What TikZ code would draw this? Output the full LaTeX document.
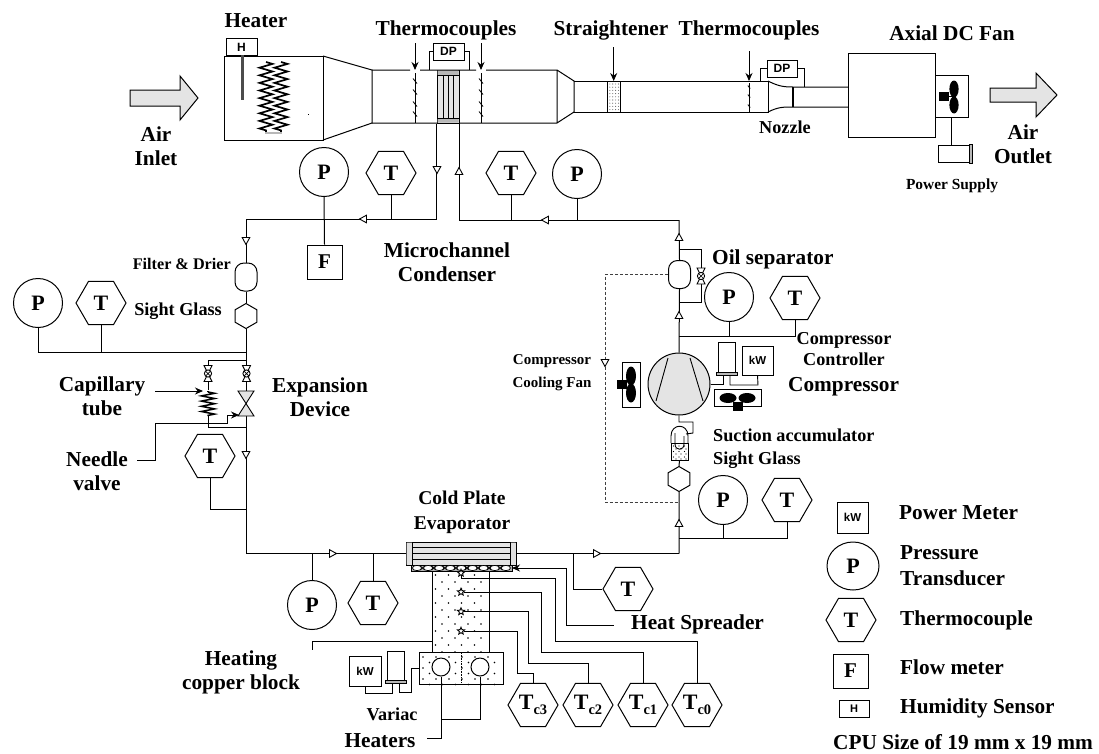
\documentclass[tikz,border=0pt]{standalone}
\usepackage{fontspec}
\setmainfont{Liberation Serif}
\newfontfamily\lsans{Liberation Sans}
\usetikzlibrary{shapes.geometric,arrows.meta,decorations.pathmorphing}
\definecolor{lg}{HTML}{E4E4E4}
\definecolor{mg}{HTML}{B8B8B8}
\tikzset{
  pipe/.style={line width=1pt,line join=miter},
  lab/.style={font=\bfseries\fontsize{21.3}{24}\selectfont,inner sep=0pt,align=center},
  labm/.style={font=\bfseries\fontsize{18.2}{21}\selectfont,inner sep=0pt,align=center},
  labs/.style={font=\bfseries\fontsize{15.4}{17}\selectfont,inner sep=0pt},
  pcirc/.style={circle,draw,pipe,fill=white,minimum size=49pt,inner sep=0pt,font=\bfseries\fontsize{22}{22}\selectfont},
  hexT/.style={regular polygon,regular polygon sides=6,draw,pipe,fill=white,minimum size=50pt,inner sep=0pt,font=\bfseries\fontsize{22}{22}\selectfont},
  hexV/.style={regular polygon,regular polygon sides=6,shape border rotate=30,draw,pipe,fill=white,minimum size=25pt,inner sep=0pt},
  sq/.style={rectangle,draw,pipe,fill=white,inner sep=0pt},
  sansbox/.style={sq,font=\lsans\bfseries\fontsize{11.5}{12}\selectfont},
  roundv/.style={rectangle,draw,pipe,fill=white,rounded corners=9pt,inner sep=0pt,minimum width=22pt,minimum height=28pt},
  tip/.style={-{Stealth[length=8pt,width=7pt]}},
  flow/.pic={\draw[line width=.9pt,fill=white] (-3.8,-3.5)--(3.8,-3.5)--(0,3.5)--cycle;},
  xvalve/.pic={\draw[line width=.9pt,fill=white] (-4,-8)--(4,-8)--(-4,8)--(4,8)--cycle;
     \draw[line width=.9pt,fill=white] (0,0) circle (3.6);
     \draw[line width=.7pt] (-2.5,-2.5)--(2.5,2.5) (-2.5,2.5)--(2.5,-2.5);},
  tick/.pic={\draw[line width=.8pt] (-2,-2.5)--(2,2.5);},
}
\newcommand{\Tsub}[1]{T\raisebox{-4.5pt}{\fontsize{14.5}{14.5}\selectfont #1}}
\begin{document}
\begin{tikzpicture}[x=1pt,y=-1pt]
\useasboundingbox (0,0) rectangle (1099,753);
\fill[white] (0,0) rectangle (1099,753);

% ---- wind tunnel ----
\draw[pipe,fill=lg] (130,90)--(180,90)--(180,76)--(198,98)--(180,120)--(180,106)--(130,106)--cycle;
\draw[pipe,fill=lg] (990,88)--(1036,88)--(1036,73)--(1057,95)--(1036,117)--(1036,102)--(990,102)--cycle;

\node[sq,minimum width=99pt,minimum height=84pt] (heater) at (273.5,98) {};
\node[sq,minimum width=31pt,minimum height=17pt,font=\lsans\bfseries\fontsize{12}{12}\selectfont] (hs) at (241.5,47) {H};
\fill[black!70] (240.5,55) rectangle (243.5,100);
\draw[line width=1.7pt,decorate,decoration={zigzag,segment length=7.6pt,amplitude=6.5pt}] (266,62)--(266,132);
\draw[line width=1.7pt,decorate,decoration={zigzag,segment length=7.6pt,amplitude=6.5pt}] (281,62)--(281,132);
\draw[line width=2pt,mg] (265,132.5)--(282,132.5);
\fill (307.5,113.5) rectangle (309,115);

\draw[pipe] (323,56)--(372,70)--(372,123)--(323,140);
\draw[pipe] (372,70)--(410,70) (420,70)--(476,70) (486,70)--(557,70)--(574,81)--(574,112)--(557,123)--(372,123) (557,70)--(557,123);
\draw[pipe] (574,81)--(768,81)--(768,112)--(574,112);
\draw[pipe] (768,81) .. controls (778,86) and (783,87) .. (793,87)--(848,87);
\draw[pipe] (768,112) .. controls (778,107) and (783,107) .. (793,107)--(848,107);
\draw[line width=1.6pt] (793,87)--(793,107);
\node[sq,minimum width=87pt,minimum height=84pt] (fanbox) at (891.5,95.5) {};
\node[sq,minimum width=33pt,minimum height=42pt] (fanhub) at (951.5,96) {};
\fill (954,89) ellipse (4.6 and 8.5) (954,105) ellipse (4.6 and 8.5);
\fill (939,92) rectangle (949,101);
\draw[pipe] (949,96)--(954,96);
\node[sq,minimum width=31pt,minimum height=17pt] (psu) at (953.5,153.5) {};
\draw[pipe,fill=mg] (969,144.5) rectangle (972,163);
\draw[pipe] (fanhub.south)--(fanhub.south|-psu.north);

% straightener 1
\node[sq,fill=lg,minimum width=22pt,minimum height=53pt] (str) at (448,96.5) {};
\fill[mg] (437.5,70.5) rectangle (458.5,75) (437.5,118) rectangle (458.5,122.5);
\draw[line width=.8pt] (443,75)--(443,118) (448,75)--(448,118) (453,75)--(453,118);
\draw[line width=.7pt] (437,75)--(459,75) (437,118)--(459,118);
\coordinate (strL) at (str.south west);
\coordinate (strR) at (str.south east);

% thermocouple probes
\coordinate (tcA) at (415,43);\coordinate (tcB) at (481,43);\coordinate (tcC) at (749,51);\coordinate (stA) at (613.7,47);
\draw[pipe,tip] (tcA)--(415,70);
\draw[pipe,tip] (tcB)--(481,70);
\draw[pipe] (415,73)--(415,123) (481,73)--(481,123);
\foreach \y in {81,92,104,114}{\pic at (415,\y) {tick}; \pic at (481,\y) {tick};}
\draw[pipe,tip] (tcC)--(749,81);
\draw[line width=.9pt] (749,83)--(749,112);
\foreach \y in {87,96,106}{\pic[scale=.6] at (749,\y) {tick};}
\draw[pipe,tip] (stA)--(613.7,81);
\node[sq,minimum width=12.5pt,minimum height=31pt] (str2) at (614,96.5) {};
\foreach \i in {0,...,3}\foreach \j in {0,...,8}{\fill[black!60] (609.8+\i*2.9,84+\j*3.2) circle (.55);}

% DP boxes
\node[sansbox,font=\lsans\bfseries\fontsize{12}{12}\selectfont,minimum width=31pt,minimum height=17pt] (dpA) at (448.5,51.5) {DP};
\node[sansbox,font=\lsans\bfseries\fontsize{12}{12}\selectfont,minimum width=30pt,minimum height=17pt] (dpB) at (782,68.5) {DP};
\draw[line width=.9pt] (dpA.west)-|(429,70) (dpA.east)-|(469,70);
\draw[line width=.9pt] (dpB.west)-|(760,81) (dpB.east)-|(804,87);

% ---- refrigerant loop ----
\coordinate (cL) at (246,219);
\coordinate (cR) at (679,220);
\coordinate (cBL) at (246,553.5);
\coordinate (cBR) at (679,553.5);
\draw[pipe] (strL)|-(cL);
\draw[pipe] (strR)|-(cR);

\node[hexT] (tA) at (391,173) {T};
\node[hexT] (tB) at (511,173) {T};
\node[pcirc] (pA) at (324,172) {P};
\node[pcirc] (pB) at (577,174) {P};
\node[sq,minimum width=35pt,minimum height=34pt,font=\bfseries\fontsize{21}{21}\selectfont] (fm) at (324.5,262) {F};
\draw[pipe] (pA.south)--(fm.north);
\draw[pipe] (tA.south)--(tA.south|-cL);
\draw[pipe] (tB.south)--(tB.south|-cR);
\draw[pipe] (pB.south)--(pB.south|-cR);
\pic at (437,170) {flow};
\pic[rotate=180] at (459,171) {flow};
\pic[rotate=-90] at (363,219) {flow};
\pic[rotate=-90] at (545,220) {flow};

\node[roundv] (filt) at (246,277) {};
\node[hexV] (sgL) at (246,316) {};
\draw[pipe] (cL)--(filt.north) (filt.south)--(sgL.north);
\pic at (246,241) {flow};
\node[pcirc] (pC) at (38,303) {P};
\node[hexT] (tC) at (101,303) {T};
\coordinate (jL) at (246,352);
\draw[pipe] (pC.south)|-(jL) (tC.south)--(tC.south|-jL);
\draw[pipe] (sgL.south)--(cBL)--(cBR);

% expansion section
\coordinate (bp) at (246,360);
\draw[line width=.9pt] (bp)-|(208,390);
\pic at (208,373.5) {xvalve};
\pic at (246.5,373.5) {xvalve};
\node[inner sep=0pt] (coilT) at (208,390) {};
\draw[line width=1.2pt] (coilT)--(208,392);
\draw[line width=1.5pt,decorate,decoration={zigzag,segment length=5.2pt,amplitude=6.5pt}] (208,392)--(208,416);
\draw[line width=.9pt] (208,416)--(208,427)--(246,427);
\draw[line width=.9pt,fill=lg] (238,391)--(254,391)--(238,416)--(254,416)--cycle;
\coordinate (capL) at (155,391);
\draw[pipe,tip] (capL)--(203,391);
\coordinate (needL) at (137,460);
\draw[line width=1pt,tip] (needL)--(155,460)--(155,423)--(227,423)--(227,415)--(239,415);
\node[hexT] (tD) at (210,456) {T};
\coordinate (jD) at (246,509);
\draw[pipe] (tD.south)|-(jD);
\pic at (246,455) {flow};

% evaporator
\node[sq,fill=lg,minimum width=110pt,minimum height=23pt] (evap) at (461,553.5) {};
\fill[black!12] (406.5,542.5) rectangle (412,564.5) (510,542.5) rectangle (515.5,564.5);
\draw[line width=.9pt] (412,542)--(412,565) (510,542)--(510,565) (412,547.5)--(510,547.5) (412,553.5)--(510,553.5) (412,559)--(510,559);
\pic[rotate=90] at (333,553.5) {flow};
\pic[rotate=90] at (597,553.5) {flow};
\node[pcirc] (pE) at (312,605) {P};
\node[hexT] (tE) at (373,603) {T};
\node[hexT] (tF) at (628,589) {T};
\draw[pipe] (pE.north)--(pE.north|-cBL) (tE.north)--(tE.north|-cBL);
\coordinate (jF) at (573,553.5);
\draw[pipe] (jF)|-(tF.west);

% copper blocks
\node[sq,minimum width=57pt,minimum height=82pt] (cu) at (460.5,611.5) {};
\node[sq,minimum width=84pt,minimum height=32pt] (cul) at (461,668) {};
\foreach \r in {0,...,5}{\foreach \c in {0,...,3}{\fill (435.5+\c*13,575+\r*14) circle (.8); \fill (442+\c*13,582+\r*14) circle (.8);}}
\foreach \r in {0,1,2}{\foreach \c in {0,...,5}{\fill (423+\c*13,657+\r*11) circle (.8); \fill (429.5+\c*13,662.5+\r*11) circle (.8);}}
\node[sq,fill=black!30,minimum width=101pt,minimum height=6pt] (hsp) at (461.5,568) {};
\foreach \c in {0,...,8}{\draw[line width=.7pt,fill=white] (417+\c*11.1,568) ellipse (4.6 and 2.6);}
\foreach \c in {0,...,7}{\draw[line width=.6pt] (420.5+\c*11.1,566)--(424.5+\c*11.1,570) (420.5+\c*11.1,570)--(424.5+\c*11.1,566);}
\node[circle,draw,pipe,fill=white,minimum size=18pt,inner sep=0pt] (hA) at (441,667) {};
\node[circle,draw,pipe,fill=white,minimum size=18pt,inner sep=0pt] (hB) at (480,667) {};
\draw[line width=.6pt,densely dotted] (461,653)--(461,683);
\coordinate (hM) at (441,719);
\coordinate (hL) at (427,738);
\draw[pipe] (hA.south)--(hM)-|(hB.south);
\draw[pipe] (hM)|-(hL);
\coordinate (cuL) at (432,641.5);
\coordinate (cuE) at (312,650);
\draw[pipe] (cuL)-|(cuE);

% stars & thermocouple leads
\foreach \n/\y in {s0/573,s1/592,s2/611.5,s3/631}{\node[star,star points=5,star point ratio=2.2,draw,line width=.9pt,fill=white,minimum size=7.5pt,inner sep=0pt] (\n) at (461,\y) {};}
\node[hexT] (tc3) at (533,705) {\Tsub{c3}};
\node[hexT] (tc2) at (588,705) {\Tsub{c2}};
\node[hexT] (tc1) at (643,705) {\Tsub{c1}};
\node[hexT] (tc0) at (697,705) {\Tsub{c0}};
\draw[pipe] (s0.south)--(461,578)--(555,578)--(555,641)-|(tc0.north);
\draw[pipe] (s1)--(541,592)--(541,652)-|(tc1.north);
\draw[pipe] (s2)--(528,611.5)--(528,663)-|(tc2.north);
\draw[pipe] (s3)--(517,631)--(517,673)-|(tc3.north);
\coordinate (spR) at (512,568);
\coordinate (spE) at (614,625);
\draw[pipe,{Stealth[length=8pt,width=7pt]}-] (spR)--(566,568)--(566,625)--(spE);

% variac + kW at heater
\node[sansbox,minimum width=32pt,minimum height=30pt] (kwA) at (365,671) {kW};
\node[sq,minimum width=17pt,minimum height=29pt] (varA) at (395.5,665.5) {};
\node[sq,fill=mg,minimum width=21pt,minimum height=3pt] (varAb) at (395.5,681.5) {};
\draw[line width=.9pt] (kwA.south)|-(392,693)--(392,683);
\draw[line width=.9pt] (399,683)--(399,692)--(411,692)--(411,668)--(cul.west);

% right side
\node[roundv] (oil) at (679.5,274.5) {};
\node[hexV] (sgR) at (679,479) {};
\draw[pipe] (cR)--(oil.north);
\pic[rotate=180] at (679,237) {flow};
\coordinate (bpA) at (679,249);
\coordinate (bpB) at (679,302);
\draw[line width=.9pt] (bpA)-|(701,276);
\draw[line width=.9pt] (701,276)|-(bpB);
\pic at (701,276) {xvalve};
\node[pcirc] (pF) at (729,297) {P};
\node[hexT] (tG) at (795,298) {T};
\coordinate (jG) at (679,336);
\draw[pipe] (pF.south)--(pF.south|-jG) (tG.south)|-(jG);
\node[circle,draw,pipe,fill=lg,minimum size=62pt,inner sep=0pt] (comp) at (679,384) {};
\draw[pipe] (oil.south)--(comp.north);
\draw[line width=.9pt] (668,358)--(656,401) (690,358)--(703,401);
\pic[rotate=180] at (679,315) {flow};
% cooling fan
\node[sq,minimum width=18pt,minimum height=45pt] (cfan) at (631,384.5) {};
\fill (631,376) ellipse (5 and 9.5) (631,393) ellipse (5 and 9.5);
\fill (617,380) rectangle (627,389);
% dashed return
\coordinate (dnB) at (679,502);
\draw[line width=1pt,black!75,dash pattern=on 3pt off 2pt] (oil.west)-|(605,502)--(dnB);
\pic at (605,363) {flow};
% controller
\node[sq,minimum width=17pt,minimum height=31pt] (varB) at (726.5,357.5) {};
\node[sq,fill=mg,minimum width=21pt,minimum height=3pt] (varBb) at (726.5,374) {};
\node[sansbox,minimum width=31pt,minimum height=29pt] (kwB) at (757.5,360.5) {kW};
\draw[line width=.9pt] (comp.east)-|(723,376);
\draw[line width=.9pt] (730,376)|-(758,385)--(kwB.south);
\node[sq,minimum width=47pt,minimum height=17pt] (hfan) at (737.5,397.5) {};
\fill (728,398) ellipse (8.5 and 5) (747,398) ellipse (8.5 and 5);
\fill (733,402) rectangle (743,411);
% accumulator
\node[sq,fill=white,minimum width=17pt,minimum height=17pt] (acc) at (679.5,451.5) {};
\foreach \i in {0,1,2}\foreach \j in {0,1,2}{\fill (673.5+\i*5.5,446+\j*5.5) circle (.7); \fill (676+\i*5,449+\j*5) circle (.6);}
\draw[line width=.9pt] (671,443)--(671,436) .. controls (671,423) and (688,423) .. (688,436)--(688,443);
\draw[line width=.9pt] (675,433)--(675,444) .. controls (675,451) and (684,451) .. (684,444)--(684,436);
\draw[line width=.9pt] (comp.south)--(679,422)--(693,422)--(693,433)--(686,434);
\draw[pipe] (acc.south)--(sgR.north) (sgR.south)--(cBR);
\pic[rotate=180] at (679,523) {flow};
\node[pcirc] (pH) at (723,500) {P};
\node[hexT] (tH) at (787,500) {T};
\coordinate (jH) at (679,538);
\draw[pipe] (pH.south)--(pH.south|-jH) (tH.south)|-(jH);

% ---- legend ----
\node[sansbox,minimum width=31pt,minimum height=31pt] (lkw) at (852.5,517.5) {kW};
\node[ellipse,draw,pipe,minimum width=52pt,minimum height=48pt,inner sep=0pt,font=\bfseries\fontsize{22}{22}\selectfont] (lp) at (853,566) {P};
\node[hexT] (lt) at (851,620) {T};
\node[sq,minimum width=35pt,minimum height=34pt,font=\bfseries\fontsize{21}{21}\selectfont] (lf) at (850.5,671) {F};
\node[sansbox,font=\lsans\bfseries\fontsize{11}{11}\selectfont,minimum width=30pt,minimum height=17pt] (lh) at (854,708.5) {H};
\node[lab,anchor=west] (n1) at (899,513) {Power Meter};
\node[lab,anchor=west,align=left] (n2) at (900,566) {Pressure\\[2pt]Transducer};
\node[lab,anchor=west] (n3) at (900,620) {Thermocouple};
\node[lab,anchor=west] (n4) at (900,667) {Flow meter};
\node[lab,anchor=west] (n5) at (900,708) {Humidity Sensor};
\node[lab,anchor=west] (n6) at (833,742) {CPU Size of 19 mm x 19 mm};

% ---- labels ----
\node[lab] (l1) at (256,21) {Heater};
\node[lab] (l2) at (446,30) {Thermocouples};
\node[lab] (l3) at (611,30) {Straightener};
\node[lab] (l4) at (749,30) {Thermocouples};
\node[lab] (l5) at (952,33) {Axial DC Fan};
\node[labm] (l6) at (785,127) {Nozzle};
\node[labs] (l7) at (952,186) {Power Supply};
\node[lab] (l8) at (156,146) {Air\\Inlet};
\node[lab] (l9) at (1023,144) {Air\\Outlet};
\node[lab] (l10) at (447,262) {Microchannel\\Condenser};
\node[labm,font=\bfseries\fontsize{16.2}{18}\selectfont,anchor=east] (l11) at (231,264) {Filter \& Drier};
\node[labm,anchor=east] (l12) at (222,311) {Sight Glass};
\node[lab] (l13) at (102,396) {Capillary\\tube};
\node[lab] (l14) at (320,397) {Expansion\\Device};
\node[lab] (l15) at (97,471) {Needle\\valve};
\node[lab,anchor=west] (l16) at (712,259) {Oil separator};
\node[labm] (l17) at (844,349) {Compressor\\Controller};
\node[lab,anchor=west] (l18) at (788,387) {Compressor};
\node[font=\bfseries\fontsize{15}{23}\selectfont,inner sep=0pt,align=center] (l19) at (552,373) {Compressor\\Cooling Fan};
\node[labm,anchor=west] (l20) at (713,435) {Suction accumulator};
\node[labm,anchor=west] (l21) at (713,460) {Sight Glass};
\node[lab,font=\bfseries\fontsize{19.5}{25}\selectfont] (l22) at (462,512) {Cold Plate\\Evaporator};
\node[lab,anchor=west] (l23) at (631,624) {Heat Spreader};
\node[lab] (l24) at (241,672) {Heating\\copper block};
\node[labm] (l25) at (392,714) {Variac};
\node[lab] (l26) at (380,741) {Heaters};
\end{tikzpicture}
\end{document}
